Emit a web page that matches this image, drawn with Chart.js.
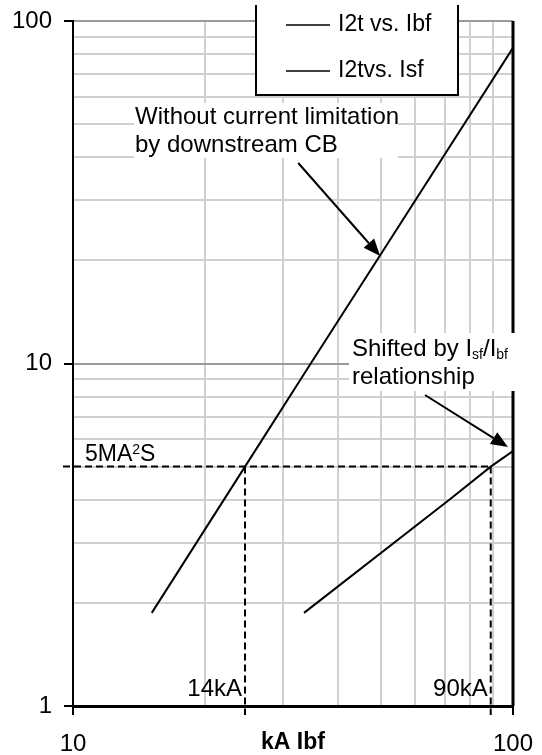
<!DOCTYPE html>
<html>
<head>
<meta charset="utf-8">
<script src="https://cdn.jsdelivr.net/npm/chart.js@4/dist/chart.umd.min.js"></script>
<style>html,body{margin:0;padding:0;background:#fff}</style>
</head>
<body>
<canvas id="chart" width="542" height="755"></canvas>
<script>
const FONT = "'Liberation Sans', Arial, sans-serif";

// data (kA, MA²s)
const seriesLabels = ['I2t vs. Ibf', 'I2tvs. Isf'];
const ibfX = [15.1, 24.6, 34.7, 49.9, 100];
const ibfY = [1.87, 5, 10, 20.7, 83.5];
const isfX = [33.5, 72.5, 89, 100];
const isfY = [1.87, 4.05, 5, 5.55];
const xTickLabels = [10, 100];
const yTickLabels = [1, 10, 100];
const refY = 5;                       // 5MA²S
const refX = [24.6, 89];              // where each curve hits 5MA²S
const refXLabels = ['14kA', '90kA'];
// arrows, [fromX, fromY, toX, toY] in data units
const arrows = [[32.5, 38.5, 49.9, 20.6], [63.1, 8.09, 97.4, 5.70]];

const pts = (xs, ys) => xs.map((x, i) => ({ x, y: ys[i] }));
const isMajor = v => Math.abs(Math.log10(v) - Math.round(Math.log10(v))) < 1e-6;
const font = (s, w) => `${w || 'normal'} ${s}px ${FONT}`;
// keep only 1..9 x 10^n ticks
const wholeTicks = s => {
  s.ticks = s.ticks.filter(t => {
    const m = t.value / Math.pow(10, Math.floor(Math.log10(t.value) + 1e-9));
    return Math.abs(m - Math.round(m)) < 1e-6;
  });
};
// labels may hang over the edges, layout padding decides the plot box
const noOverhang = s => { s.paddingLeft = s.paddingRight = s.paddingTop = s.paddingBottom = 0; };

const drawArrow = (ctx, x1, y1, x2, y2) => {
  const a = Math.atan2(y2 - y1, x2 - x1), L = 17, W = 7;
  const bx = x2 - L * Math.cos(a), by = y2 - L * Math.sin(a);
  ctx.beginPath(); ctx.moveTo(x1, y1); ctx.lineTo(bx, by); ctx.stroke();
  ctx.beginPath(); ctx.moveTo(x2, y2);
  ctx.lineTo(bx + W * Math.sin(a), by - W * Math.cos(a));
  ctx.lineTo(bx - W * Math.sin(a), by + W * Math.cos(a));
  ctx.closePath(); ctx.fill();
};

// text made of runs: [text, size, dy]
const drawRuns = (ctx, x, y, runs) => {
  runs.forEach(([t, s, dy]) => {
    ctx.font = font(s);
    ctx.fillText(t, x, y + dy);
    x += ctx.measureText(t).width;
  });
};

const annot = {
  id: 'annot',
  afterDraw(chart) {
    const { ctx, chartArea: a, scales: { x, y } } = chart;
    ctx.save();
    ctx.strokeStyle = '#000'; ctx.fillStyle = '#000';

    // right frame line
    ctx.lineWidth = 3;
    ctx.beginPath(); ctx.moveTo(a.right, a.top); ctx.lineTo(a.right, a.bottom); ctx.stroke();

    // dashed 5MA²S lines
    ctx.lineWidth = 2; ctx.setLineDash([7, 4]);
    const py = y.getPixelForValue(refY);
    ctx.beginPath();
    ctx.moveTo(a.left - 10, py); ctx.lineTo(x.getPixelForValue(refX[1]), py);
    refX.forEach(v => { const px = x.getPixelForValue(v); ctx.moveTo(px, py); ctx.lineTo(px, a.bottom + 9); });
    ctx.stroke(); ctx.setLineDash([]);

    // white boxes behind notes
    ctx.fillStyle = '#fff';
    ctx.fillRect(134, 103, 264, 55);
    ctx.fillRect(349, 333, 172, 58);
    ctx.fillStyle = '#000';

    ctx.textBaseline = 'middle'; ctx.textAlign = 'left';
    ctx.font = font(24);
    ctx.fillText('Without current limitation', 135, 117);
    ctx.fillText('by downstream CB', 135, 145);
    drawRuns(ctx, 352, 349, [['Shifted by I', 24, 0], ['sf', 14, 6], ['/I', 24, 0], ['bf', 14, 6]]);
    ctx.font = font(24);
    ctx.fillText('relationship', 352, 377);
    drawRuns(ctx, 85, 455, [['5MA', 23, 0], ['2', 14, -5], ['S', 23, 0]]);

    ctx.textAlign = 'right'; ctx.font = font(24);
    refX.forEach((v, i) => ctx.fillText(refXLabels[i], x.getPixelForValue(v) - 3, 689));

    ctx.lineWidth = 2;
    arrows.forEach(([x1, y1, x2, y2]) => drawArrow(ctx,
      x.getPixelForValue(x1), y.getPixelForValue(y1), x.getPixelForValue(x2), y.getPixelForValue(y2)));

    // legend box
    ctx.fillStyle = '#fff';
    ctx.fillRect(256, 0, 202, 95);
    ctx.beginPath();
    ctx.moveTo(256, 5); ctx.lineTo(256, 95); ctx.lineTo(458, 95); ctx.lineTo(458, 5);
    ctx.stroke();
    ctx.fillStyle = '#000'; ctx.textAlign = 'left'; ctx.font = font(23);
    chart.data.datasets.forEach((d, i) => {
      const ly = 25 + i * 46;
      ctx.lineWidth = 1.5;
      ctx.beginPath(); ctx.moveTo(286, ly); ctx.lineTo(330, ly); ctx.stroke();
      ctx.fillText(d.label, 338, ly);
    });
    ctx.restore();
  }
};

const line = (label, data) => ({
  label, data, showLine: true, borderColor: '#000', borderWidth: 2,
  pointRadius: 0, fill: false, tension: 0
});

new Chart(document.getElementById('chart'), {
  type: 'scatter',
  data: { datasets: [line(seriesLabels[0], pts(ibfX, ibfY)), line(seriesLabels[1], pts(isfX, isfY))] },
  options: {
    responsive: false, animation: false, devicePixelRatio: 1,
    layout: { autoPadding: false, padding: { top: 21, right: 29, left: 0, bottom: 0 } },
    plugins: { legend: { display: false }, tooltip: { enabled: false } },
    scales: {
      x: {
        type: 'logarithmic', min: 10, max: 100,
        afterBuildTicks: wholeTicks,
        afterFit: s => { s.height = 49; noOverhang(s); },
        grid: {
          color: '#d0d0d0', lineWidth: 2, tickLength: 9, tickWidth: 2,
          tickColor: c => xTickLabels.includes(c.tick && c.tick.value) ? '#000' : 'rgba(0,0,0,0)'
        },
        border: { color: '#000', width: 3 },
        ticks: {
          autoSkip: false, maxRotation: 0, color: '#000', padding: 15,
          font: { family: FONT, size: 24 },
          callback: v => xTickLabels.includes(v) ? String(v) : ''
        },
        title: {
          display: true, text: 'kA Ibf', color: '#000',
          font: { family: FONT, size: 23, weight: 'bold', lineHeight: 1 },
          padding: { top: 0, bottom: 1 }
        }
      },
      y: {
        type: 'logarithmic', min: 1, max: 100,
        afterBuildTicks: wholeTicks,
        afterFit: s => { s.width = 73; noOverhang(s); },
        grid: {
          color: c => c.tick && isMajor(c.tick.value) ? '#9a9a9a' : '#d0d0d0',
          lineWidth: 2, tickLength: 9, tickWidth: 2,
          tickColor: c => yTickLabels.includes(c.tick && c.tick.value) ? '#000' : 'rgba(0,0,0,0)'
        },
        border: { color: '#000', width: 2 },
        ticks: {
          autoSkip: false, color: '#000', padding: 12,
          font: { family: FONT, size: 24 },
          callback: v => yTickLabels.includes(v) ? String(v) : ''
        }
      }
    }
  },
  plugins: [annot]
});
</script>
</body>
</html>
